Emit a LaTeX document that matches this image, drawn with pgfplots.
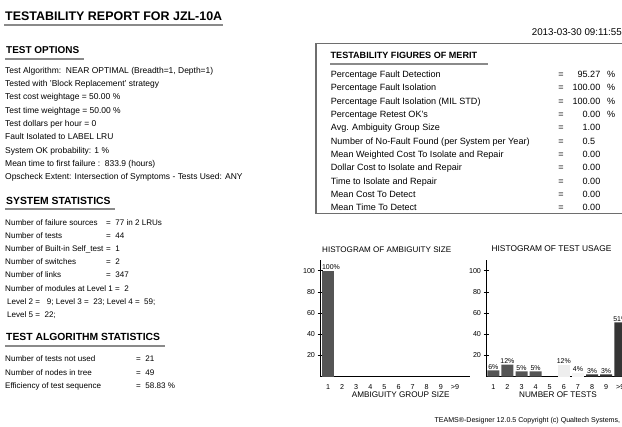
\documentclass[border=0pt]{standalone}
\usepackage{pgfplots}
\pgfplotsset{compat=1.18}
\usepackage{fontspec}
\setmainfont{Liberation Sans}

\definecolor{rule}{HTML}{8A8A8A}
\definecolor{frame}{HTML}{6E6E6E}
\definecolor{bardark}{HTML}{555555}
\definecolor{bardarker}{HTML}{353535}
\definecolor{barlight}{HTML}{EEEEEE}
\definecolor{barpale}{HTML}{F4F4F4}

\pgfplotsset{
  histo/.style={
    scale only axis,
    axis lines=left,
    axis line style={-, black, line width=0.8bp},
    ymin=0, ymax=110,
    height=116.6bp,
    ytick={20,40,60,80,100},
    xtick={1,...,10},
    xticklabels={1,2,3,4,5,6,7,8,9,>9},
    tick align=center,
    major tick length=5bp,
    x tick style={draw=none},
    y tick style={black, line width=0.6bp},
    /pgf/number format/assume math mode=true,
    tick label style={font=\fontsize{7.2}{8}\selectfont},
    xticklabel style={yshift=1bp},
    yticklabel style={xshift=1bp},
    ybar, bar width=12bp,
    every axis plot/.append style={bar shift=0pt, draw=none},
    nodes near coords,
    point meta=explicit symbolic,
    every node near coord/.append style={font=\fontsize{7}{8}\selectfont, inner sep=1bp, black},
    clip=false,
  }
}

\begin{document}
\begin{tikzpicture}
\useasboundingbox (0,0) rectangle (622bp,-427bp);

\begin{scope}[x=1bp, y=-1bp]
% header
\node[anchor=base west, inner sep=0, font=\bfseries\fontsize{12.5}{14}\selectfont] at (5,20) {TESTABILITY REPORT FOR JZL-10A};
\draw[rule, line width=2bp] (4,24.5) -- (223,24.5);
\node[anchor=base east, inner sep=0, font=\fontsize{9.8}{11}\selectfont] at (622,35.5) {2013-03-30 09:11:55};

% test options
\node[anchor=base west, inner sep=0, font=\bfseries\fontsize{10}{12}\selectfont] at (6,53) {TEST OPTIONS};
\draw[rule, line width=2bp] (5,58.5) -- (84,58.5);
\begin{scope}[every node/.style={anchor=base west, inner sep=0, font=\fontsize{8.5}{10}\selectfont}]
\node at (5,73.3) {Test Algorithm:\ \ NEAR OPTIMAL (Breadth=1, Depth=1)};
\node at (5,86.3) {Tested with 'Block Replacement' strategy};
\node at (5,99.8) {Test cost weightage = 50.00 \%};
\node at (5,113) {Test time weightage = 50.00 \%};
\node at (5,126.5) {Test dollars per hour = 0};
\node at (5,139.8) {Fault Isolated to LABEL LRU};
\node at (5,153.2) {System OK probability: 1 \%};
\node at (5,166.5) {Mean time to first failure :\ \ 833.9 (hours)};
\node at (5,179.8) {Opscheck Extent: Intersection of Symptoms - Tests Used: ANY};
\end{scope}

% system statistics
\node[anchor=base west, inner sep=0, font=\bfseries\fontsize{10.4}{12}\selectfont] at (6,204) {SYSTEM STATISTICS};
\draw[rule, line width=2bp] (5,208.5) -- (115,208.5);
\begin{scope}[every node/.style={anchor=base west, inner sep=0, font=\fontsize{8.1}{10}\selectfont}]
\node at (5,225) {Number of failure sources};   \node at (106,225) {= \ 77 in 2 LRUs};
\node at (5,238) {Number of tests};             \node at (106,238) {= \ 44};
\node at (5,251) {Number of Built-in Self\_test}; \node at (106,251) {= \ 1};
\node at (5,264.5) {Number of switches};        \node at (106,264.5) {= \ 2};
\node at (5,277.8) {Number of links};           \node at (106,277.8) {= \ 347};
\node at (5,291) {Number of modules at Level 1}; \node at (115,291) {= \ 2};
\node at (7,304.5) {Level 2 = \ \ 9; Level 3 = \ 23; Level 4 = \ 59;};
\node at (7,317.8) {Level 5 = \ 22;};
\end{scope}

% test algorithm statistics
\node[anchor=base west, inner sep=0, font=\bfseries\fontsize{10.4}{12}\selectfont] at (6,340.5) {TEST ALGORITHM STATISTICS};
\draw[rule, line width=2bp] (5,346) -- (165,346);
\begin{scope}[every node/.style={anchor=base west, inner sep=0, font=\fontsize{8.1}{10}\selectfont}]
\node at (5,361.8) {Number of tests not used};      \node at (136,361.8) {= \ 21};
\node at (5,375.2) {Number of nodes in tree};       \node at (136,375.2) {= \ 49};
\node at (5,388.5) {Efficiency of test sequence};   \node at (136,388.5) {= \ 58.83 \%};
\end{scope}

% figures of merit box
\draw[frame, line width=1.6bp] (316,43.5) rectangle (630,213.3);
\node[anchor=base west, inner sep=0, font=\bfseries\fontsize{9.1}{10}\selectfont] at (330.5,58.5) {TESTABILITY FIGURES OF MERIT};
\draw[rule, line width=2bp] (330,63.5) -- (488,63.5);
\begin{scope}[every node/.style={inner sep=0, font=\fontsize{9.1}{10}\selectfont}]
\foreach \lab/\val/\pc [count=\i] in {
  {Percentage Fault Detection}/{95.27}/{\%},
  {Percentage Fault Isolation}/{100.00}/{\%},
  {Percentage Fault Isolation (MIL STD)}/{100.00}/{\%},
  {Percentage Retest OK's}/{0.00}/{\%},
  {Avg. Ambiguity Group Size}/{1.00}/{},
  {Number of No-Fault Found (per System per Year)}/{0.5\hphantom{0}}/{},
  {Mean Weighted Cost To Isolate and Repair}/{0.00}/{},
  {Dollar Cost to Isolate and Repair}/{0.00}/{},
  {Time to Isolate and Repair}/{0.00}/{},
  {Mean Cost To Detect}/{0.00}/{},
  {Mean Time To Detect}/{0.00}/{}} {
  \pgfmathsetmacro{\yy}{77.3+13.36*(\i-1)}
  \node[anchor=base west] at (330.7,\yy) {\lab};
  \node[anchor=base] at (561,\yy) {=};
  \node[anchor=base east] at (600.5,\yy) {\val};
  \node[anchor=base west] at (607,\yy) {\pc};
}
\end{scope}

% histogram titles and footer
\node[anchor=base, inner sep=0, font=\fontsize{8.1}{10}\selectfont] at (386.7,252.3) {HISTOGRAM OF AMBIGUITY SIZE};
\node[anchor=base, inner sep=0, font=\fontsize{8.4}{10}\selectfont] at (551.5,251.3) {HISTOGRAM OF TEST USAGE};
\node[anchor=base, inner sep=0, font=\fontsize{8.2}{10}\selectfont] at (400.7,397.7) {AMBIGUITY GROUP SIZE};
\node[anchor=base, inner sep=0, font=\fontsize{8.2}{10}\selectfont] at (558,397.7) {NUMBER OF TESTS};
\node[anchor=base west, inner sep=0, font=\fontsize{7.1}{8}\selectfont] at (434.3,422.5) {TEAMS\textregistered-Designer 12.0.5 Copyright (c) Qualtech Systems, Inc.};
\end{scope}

% ambiguity size histogram
\begin{axis}[histo,
  at={(320bp,-376.7bp)}, anchor=south west,
  xmin=0.433, xmax=11.07, width=150bp,
  every node near coord/.append style={xshift=3bp}]
\addplot[fill=bardark] coordinates {(1,100) [100\%]};
\end{axis}

% test usage histogram
\begin{axis}[histo,
  at={(486bp,-376.7bp)}, anchor=south west,
  xmin=0.482, xmax=11.5, width=155.4bp]
\addplot[fill=bardark] coordinates {(1,6) [6\%] (2,11.5) [12\%] (3,5) [5\%] (4,5) [5\%]};
\addplot[fill=barlight] coordinates {(6,11.5) [12\%]};
\addplot[fill=barpale] coordinates {(7,3.8) [4\%]};
\addplot[fill=bardarker] coordinates {(8,2.2) [3\%] (9,2.2) [3\%] (10,51.3) [51\%]};
\end{axis}
\end{tikzpicture}
\end{document}
